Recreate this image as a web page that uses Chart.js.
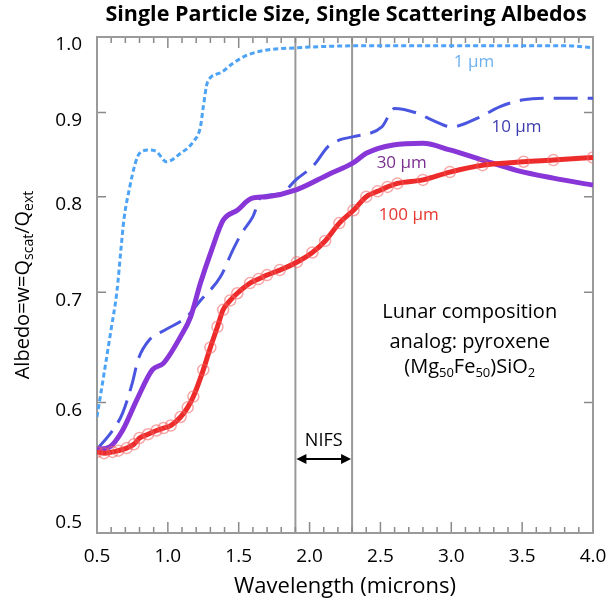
<!DOCTYPE html>
<html>
<head>
<meta charset="utf-8">
<script src="https://cdn.jsdelivr.net/npm/chart.js@4.4.1/dist/chart.umd.min.js"></script>
<style>
  html, body { margin: 0; padding: 0; background: #fff; }
  #wrap { width: 615px; height: 604px; }
</style>
</head>
<body>
<div id="wrap"><canvas id="chart"></canvas></div>
<script>
/* ---- data ---- */

// 1 micron particles
const wl1  = [0.5, 0.55, 0.6, 0.64, 0.67, 0.69, 0.73, 0.77, 0.80, 0.87, 0.92, 0.99, 1.09, 1.18, 1.23, 1.25, 1.28, 1.37, 1.46, 1.56, 1.70, 1.91, 2.12, 2.5, 3.0, 3.5, 3.8, 4.0];
const alb1 = [0.588, 0.625, 0.665, 0.700, 0.745, 0.775, 0.810, 0.838, 0.850, 0.854, 0.852, 0.840, 0.850, 0.864, 0.882, 0.907, 0.939, 0.951, 0.964, 0.975, 0.982, 0.985, 0.987, 0.988, 0.988, 0.988, 0.988, 0.985];

// 10 micron particles
const wl10  = [0.5, 0.61, 0.68, 0.75, 0.79, 0.87, 0.98, 1.13, 1.23, 1.37, 1.46, 1.52, 1.60, 1.66, 1.79, 1.91, 2.03, 2.13, 2.21, 2.31, 2.51, 2.60, 2.76, 2.87, 3.0, 3.2, 3.34, 3.51, 3.7, 4.0];
const alb10 = [0.562, 0.577, 0.591, 0.617, 0.637, 0.655, 0.664, 0.676, 0.692, 0.715, 0.743, 0.760, 0.778, 0.800, 0.803, 0.820, 0.836, 0.858, 0.866, 0.870, 0.882, 0.905, 0.899, 0.890, 0.882, 0.894, 0.907, 0.916, 0.918, 0.918];

// 30 micron particles
const wl30  = [0.5, 0.59, 0.68, 0.78, 0.89, 0.97, 1.09, 1.16, 1.23, 1.31, 1.39, 1.49, 1.59, 1.70, 1.91, 2.13, 2.31, 2.40, 2.59, 2.80, 2.99, 3.22, 3.46, 3.72, 4.0];
const alb30 = [0.562, 0.564, 0.577, 0.602, 0.628, 0.634, 0.658, 0.676, 0.709, 0.743, 0.774, 0.785, 0.798, 0.800, 0.808, 0.825, 0.839, 0.850, 0.860, 0.862, 0.854, 0.842, 0.830, 0.821, 0.813];

// 100 micron particles
const wl100  = [0.5, 0.55, 0.61, 0.65, 0.71, 0.76, 0.80, 0.86, 0.92, 0.97, 1.02, 1.09, 1.14, 1.18, 1.25, 1.30, 1.35, 1.39, 1.44, 1.49, 1.58, 1.64, 1.70, 1.79, 1.91, 2.02, 2.11, 2.21, 2.31, 2.40, 2.48, 2.55, 2.62, 2.80, 2.99, 3.22, 3.51, 3.72, 4.0];
const alb100 = [0.560, 0.559, 0.560, 0.561, 0.563, 0.566, 0.571, 0.574, 0.577, 0.579, 0.581, 0.588, 0.596, 0.605, 0.628, 0.648, 0.667, 0.683, 0.692, 0.699, 0.709, 0.713, 0.717, 0.722, 0.730, 0.740, 0.752, 0.771, 0.785, 0.800, 0.806, 0.811, 0.815, 0.819, 0.828, 0.836, 0.840, 0.842, 0.845];

const yTicks = [0.5, 0.6, 0.7, 0.8, 0.9, 1.0];
const nifsEdges = [1.9, 2.3];

/* ---- styling ---- */

const FONT = "'Open Sans', sans-serif";
const INK = '#000';
const FRAME = '#9a9a9a';

const toPoints = (xs, ys) => xs.map((x, i) => ({ x, y: ys[i] }));

// curve labels, placed in data coordinates
const curveLabels = [
  { text: '1 \u03bcm',   x: 3.16, y: 0.966, color: '#6cb0f0' },
  { text: '10 \u03bcm',  x: 3.46, y: 0.882, color: '#3c3cb0' },
  { text: '30 \u03bcm',  x: 2.65, y: 0.838, color: '#7a2f8e' },
  { text: '100 \u03bcm', x: 2.70, y: 0.780, color: '#e8352e' }
];

// draw a run of [text, isSub] pieces starting at x (left aligned)
function drawPieces(ctx, pieces, x, y, size, subSize, subDrop) {
  pieces.forEach(([txt, sub]) => {
    ctx.font = `${sub ? subSize : size}px ${FONT}`;
    ctx.fillText(txt, x, sub ? y + subDrop : y);
    x += ctx.measureText(txt).width;
  });
}
function piecesWidth(ctx, pieces, size, subSize) {
  return pieces.reduce((w, [txt, sub]) => {
    ctx.font = `${sub ? subSize : size}px ${FONT}`;
    return w + ctx.measureText(txt).width;
  }, 0);
}

/* ---- plot furniture: frame, inward ticks, NIFS lines ---- */

const furniture = {
  id: 'furniture',
  beforeDatasetsDraw(chart) {
    const { ctx, chartArea: a, scales: { x, y } } = chart;
    ctx.save();

    // NIFS band edges
    ctx.strokeStyle = '#999';
    ctx.lineWidth = 2;
    nifsEdges.forEach(v => {
      const px = x.getPixelForValue(v);
      ctx.beginPath();
      ctx.moveTo(px, a.top);
      ctx.lineTo(px, a.bottom);
      ctx.stroke();
    });

    // inward ticks on top / bottom
    ctx.strokeStyle = '#8a8a8a';
    ctx.lineWidth = 1.5;
    for (let i = 6; i < 40; i++) {
      const px = x.getPixelForValue(i / 10);
      const len = i % 5 === 0 ? 11 : 6;
      ctx.beginPath();
      ctx.moveTo(px, a.bottom); ctx.lineTo(px, a.bottom - len);
      ctx.moveTo(px, a.top);    ctx.lineTo(px, a.top + len);
      ctx.stroke();
    }
    // inward ticks left / right
    yTicks.slice(1, -1).forEach(v => {
      const py = y.getPixelForValue(v);
      ctx.beginPath();
      ctx.moveTo(a.left, py);  ctx.lineTo(a.left + 9, py);
      ctx.moveTo(a.right, py); ctx.lineTo(a.right - 9, py);
      ctx.stroke();
    });

    // frame
    ctx.strokeStyle = FRAME;
    ctx.lineWidth = 2;
    ctx.strokeRect(a.left, a.top, a.right - a.left, a.bottom - a.top);
    ctx.restore();
  },

  afterDraw(chart) {
    const { ctx, chartArea: a, scales: { x, y } } = chart;
    ctx.save();

    // title
    ctx.fillStyle = INK;
    ctx.textAlign = 'center';
    ctx.textBaseline = 'alphabetic';
    ctx.font = `bold 21.5px ${FONT}`;
    ctx.fillText('Single Particle Size, Single Scattering Albedos', 346, 21);

    // y tick labels (the original sits them a little below each tick, 0.5 above)
    ctx.textBaseline = 'middle';
    ctx.font = `19px ${FONT}`;
    ctx.textAlign = 'right';
    yTicks.forEach(v => {
      const off = v === 0.5 ? -10 : 8;
      ctx.fillText(v.toFixed(1), a.left - 15, y.getPixelForValue(v) + off);
    });

    // y axis title with subscripts
    const yTitle = [['Albedo=w=Q', false], ['scat', true], ['/Q', false], ['ext', true]];
    ctx.save();
    ctx.translate(25, (a.top + a.bottom) / 2);
    ctx.rotate(-Math.PI / 2);
    ctx.textAlign = 'left';
    const tw = piecesWidth(ctx, yTitle, 20, 14);
    drawPieces(ctx, yTitle, -tw / 2, -2, 20, 14, 6);
    ctx.restore();

    // curve labels
    ctx.textAlign = 'center';
    ctx.font = `17px ${FONT}`;
    curveLabels.forEach(l => {
      ctx.fillStyle = l.color;
      ctx.fillText(l.text, x.getPixelForValue(l.x), y.getPixelForValue(l.y));
    });

    // composition note
    ctx.fillStyle = INK;
    ctx.font = `20px ${FONT}`;
    const cx = x.getPixelForValue(3.13);
    ctx.fillText('Lunar composition', cx, y.getPixelForValue(0.681));
    ctx.fillText('analog: pyroxene', cx, y.getPixelForValue(0.653));
    const formula = [['(Mg', false], ['50', true], ['Fe', false], ['50', true], [')SiO', false], ['2', true]];
    ctx.textAlign = 'left';
    const fw = piecesWidth(ctx, formula, 20, 13);
    drawPieces(ctx, formula, cx - fw / 2, y.getPixelForValue(0.630), 20, 13, 6);

    // NIFS double arrow
    const x1 = x.getPixelForValue(nifsEdges[0]);
    const x2 = x.getPixelForValue(nifsEdges[1]);
    const ay = 459;
    ctx.strokeStyle = INK;
    ctx.lineWidth = 2;
    ctx.beginPath();
    ctx.moveTo(x1 + 6, ay); ctx.lineTo(x2 - 6, ay);
    ctx.stroke();
    ctx.beginPath();
    ctx.moveTo(x1 + 1, ay); ctx.lineTo(x1 + 11, ay - 5); ctx.lineTo(x1 + 11, ay + 5); ctx.closePath();
    ctx.moveTo(x2 - 1, ay); ctx.lineTo(x2 - 11, ay - 5); ctx.lineTo(x2 - 11, ay + 5); ctx.closePath();
    ctx.fill();
    ctx.textAlign = 'center';
    ctx.font = `18px ${FONT}`;
    ctx.fillText('NIFS', (x1 + x2) / 2, 441);

    ctx.restore();
  }
};

/* ---- chart ---- */

new Chart(document.getElementById('chart'), {
  type: 'line',
  data: {
    datasets: [
      {
        label: '100 \u03bcm',
        data: toPoints(wl100, alb100),
        borderColor: '#ee2b2b',
        borderWidth: 5,
        pointRadius: 5.5,
        pointBorderWidth: 1.5,
        pointBorderColor: 'rgba(240, 95, 95, 0.55)',
        pointBackgroundColor: 'rgba(0,0,0,0)',
        cubicInterpolationMode: 'monotone'
      },
      {
        label: '30 \u03bcm',
        data: toPoints(wl30, alb30),
        borderColor: '#8836d8',
        borderWidth: 5,
        pointRadius: 0,
        cubicInterpolationMode: 'monotone'
      },
      {
        label: '10 \u03bcm',
        data: toPoints(wl10, alb10),
        borderColor: '#4b56e0',
        borderWidth: 3,
        borderDash: [24, 10],
        pointRadius: 0,
        cubicInterpolationMode: 'monotone'
      },
      {
        label: '1 \u03bcm',
        data: toPoints(wl1, alb1),
        borderColor: '#4da3f5',
        borderWidth: 3,
        borderDash: [5, 3],
        pointRadius: 0,
        cubicInterpolationMode: 'monotone'
      }
    ]
  },
  options: {
    responsive: true,
    maintainAspectRatio: false,
    animation: false,
    layout: { padding: { top: 37, right: 22, left: 0, bottom: 0 } },
    plugins: {
      legend: { display: false },
      tooltip: { enabled: false }
    },
    scales: {
      x: {
        type: 'linear',
        min: 0.5,
        max: 4.0,
        grid: { display: false, drawTicks: false },
        border: { display: false },
        ticks: {
          stepSize: 0.5,
          autoSkip: false,
          maxRotation: 0,
          padding: 12,
          color: INK,
          font: { family: FONT, size: 19 },
          callback: v => v.toFixed(1)
        },
        title: {
          display: true,
          text: 'Wavelength (microns)',
          color: INK,
          font: { family: FONT, size: 22 },
          padding: { top: 0, bottom: 4 }
        },
        // fixed band height; end labels may overhang the frame without shrinking it
        afterFit: s => { s.height = 71; s.paddingLeft = 14; s.paddingRight = 14; }
      },
      y: {
        type: 'logarithmic',
        min: 0.5,
        max: 1.0,
        grid: { display: false, drawTicks: false },
        border: { display: false },
        ticks: { display: false },
        afterBuildTicks: s => { s.ticks = yTicks.map(v => ({ value: v })); },
        afterFit: s => { s.width = 97; }
      }
    }
  },
  plugins: [furniture]
});
</script>
</body>
</html>
